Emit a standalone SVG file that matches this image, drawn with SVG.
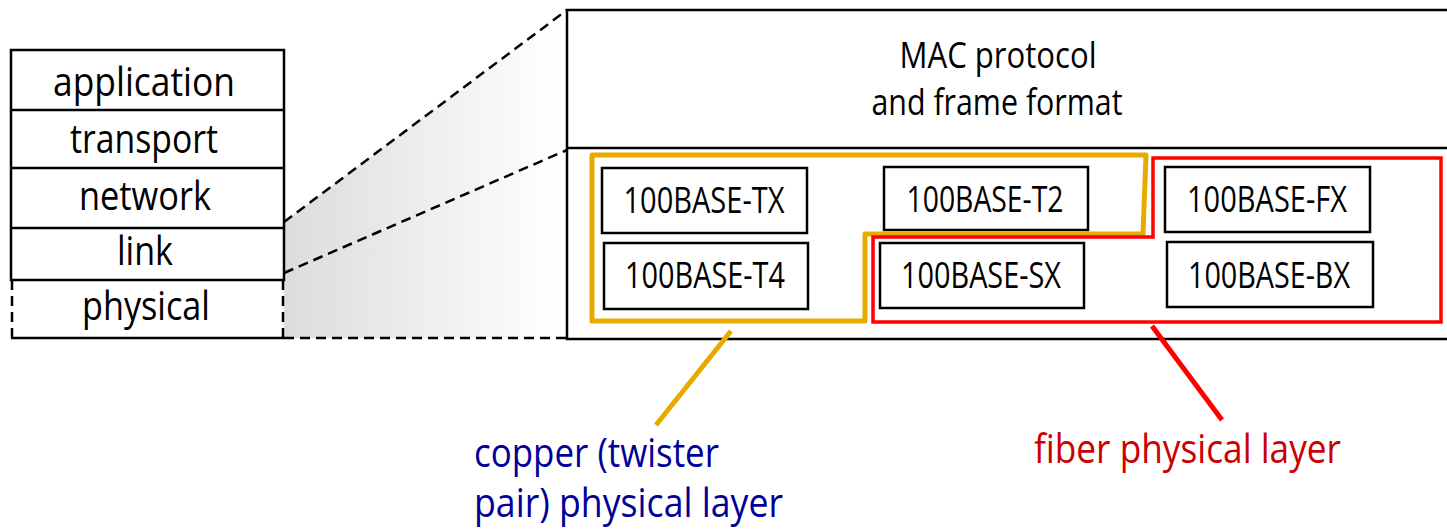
<svg xmlns="http://www.w3.org/2000/svg" width="1447" height="532" viewBox="0 0 1447 532">
<style>
text{font-family:"Open Sans","Liberation Sans",sans-serif;fill:#000}
.stk{font-size:40px;text-anchor:middle}
.bx{font-size:36px;text-anchor:middle}
.mac{font-size:36px;text-anchor:middle}
.lbl{font-size:40px}
.box{fill:#fff;stroke:#000;stroke-width:2.5}
.ln{stroke:#000;stroke-width:2.5;fill:none}
.dash{stroke:#000;stroke-width:2.5;stroke-dasharray:10 6;fill:none}
</style>
<defs>
<linearGradient id="fade" x1="284" y1="0" x2="560" y2="0" gradientUnits="userSpaceOnUse">
<stop offset="0" stop-color="#dcdcdc"/>
<stop offset="1" stop-color="#ffffff"/>
</linearGradient>
</defs>
<rect width="1447" height="532" fill="#fff"/>
<g id="zoom-connectors">
<polygon points="284,222 567,10 567,338 284,338" fill="url(#fade)"/>
<line class="dash" x1="284" y1="222" x2="567" y2="10"/>
<line class="dash" x1="284" y1="273" x2="567" y2="150"/>
<line class="dash" x1="284" y1="338" x2="567" y2="338"/>
</g>
<g id="stack">
<rect x="11" y="50" width="273" height="230" class="box"/>
<line class="ln" x1="11" y1="110" x2="284" y2="110"/>
<line class="ln" x1="11" y1="168" x2="284" y2="168"/>
<line class="ln" x1="11" y1="228" x2="284" y2="228"/>
<line class="ln" x1="11" y1="338" x2="284" y2="338"/>
<line class="dash" x1="12" y1="280" x2="12" y2="338" stroke-dasharray="16 4"/>
<line class="dash" x1="283" y1="280" x2="283" y2="338" stroke-dasharray="16 4"/>
<text class="stk" x="144" y="96" textLength="182" lengthAdjust="spacingAndGlyphs">application</text>
<text class="stk" x="144" y="153" textLength="148" lengthAdjust="spacingAndGlyphs">transport</text>
<text class="stk" x="145" y="210" textLength="132" lengthAdjust="spacingAndGlyphs">network</text>
<text class="stk" x="145" y="265" textLength="56" lengthAdjust="spacingAndGlyphs">link</text>
<text class="stk" x="146" y="320" textLength="128" lengthAdjust="spacingAndGlyphs">physical</text>
</g>
<g id="ethernet">
<rect x="567" y="10" width="900" height="329" class="box"/>
<line class="ln" x1="567" y1="148" x2="1447" y2="148"/>
<text class="mac" x="998" y="68" textLength="197" lengthAdjust="spacingAndGlyphs">MAC protocol</text>
<text class="mac" x="997" y="115" textLength="251" lengthAdjust="spacingAndGlyphs">and frame format</text>
</g>
<g id="tx"><rect x="602" y="168" width="205" height="65" class="box"/><text class="bx" x="704" y="213" textLength="161" lengthAdjust="spacingAndGlyphs">100BASE-TX</text></g>
<g id="t4"><rect x="604" y="243" width="204" height="66" class="box"/><text class="bx" x="705" y="288" textLength="160" lengthAdjust="spacingAndGlyphs">100BASE-T4</text></g>
<g id="t2"><rect x="884" y="167" width="204" height="63" class="box"/><text class="bx" x="985" y="212" textLength="157" lengthAdjust="spacingAndGlyphs">100BASE-T2</text></g>
<g id="sx"><rect x="880" y="243" width="204" height="65" class="box"/><text class="bx" x="981" y="288" textLength="160" lengthAdjust="spacingAndGlyphs">100BASE-SX</text></g>
<g id="fx"><rect x="1165" y="167" width="205" height="65" class="box"/><text class="bx" x="1267" y="212" textLength="160" lengthAdjust="spacingAndGlyphs">100BASE-FX</text></g>
<g id="bx"><rect x="1167" y="242" width="206" height="65" class="box"/><text class="bx" x="1269" y="288" textLength="162" lengthAdjust="spacingAndGlyphs">100BASE-BX</text></g>
<g id="copper-group">
<path d="M592,155 L1146,155 L1143,234 L865,234 L865,321 L592,321 Z" fill="none" stroke="#e9aa00" stroke-width="5" stroke-linejoin="round"/>
</g>
<g id="fiber-group">
<path d="M1153,158 L1441,158 L1441,322 L873,322 L873,237 L1153,237 Z" fill="none" stroke="#ff0000" stroke-width="3.5"/>
</g>
<g id="leaders">
<line x1="731" y1="331" x2="656" y2="425" stroke="#e9aa00" stroke-width="5"/>
<line x1="1152" y1="326" x2="1222" y2="420" stroke="#ff0000" stroke-width="5"/>
</g>
<g id="copper-label">
<text class="lbl" x="474" y="467" style="fill:#000099" textLength="245" lengthAdjust="spacingAndGlyphs">copper (twister</text>
<text class="lbl" x="474" y="517" style="fill:#000099" textLength="309" lengthAdjust="spacingAndGlyphs">pair) physical layer</text>
</g>
<g id="fiber-label">
<text class="lbl" x="1034" y="463" style="fill:#cc0000" textLength="307" lengthAdjust="spacingAndGlyphs">fiber physical layer</text>
</g>
</svg>
